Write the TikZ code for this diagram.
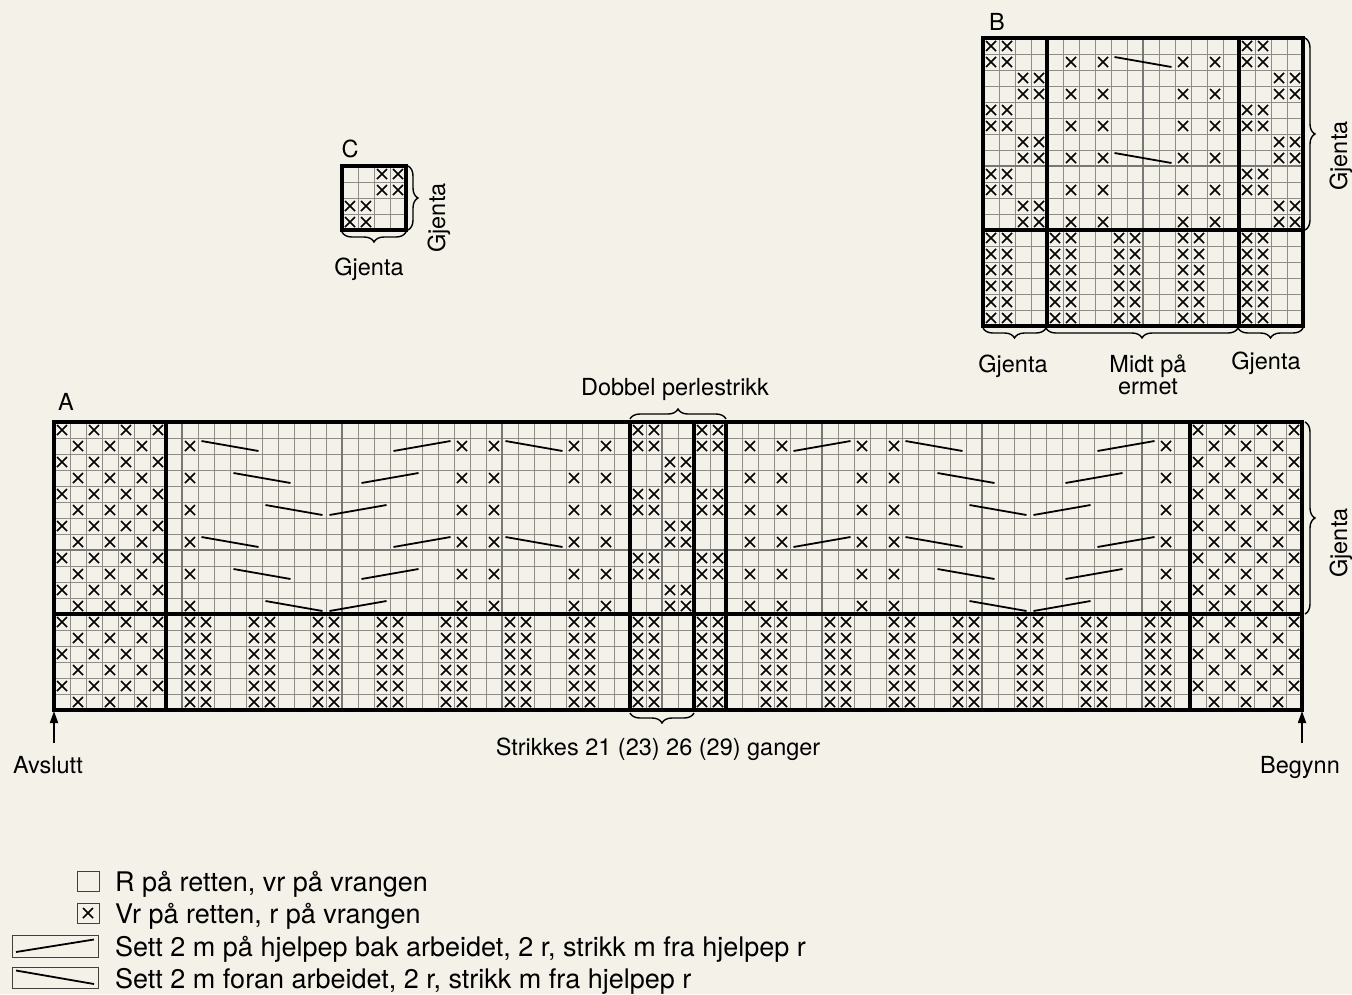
\documentclass[tikz,border=0pt]{standalone}
\usepackage{fontspec}
\setmainfont{TeX Gyre Heros}
\usetikzlibrary{decorations.pathreplacing,arrows.meta}
\definecolor{bgc}{RGB}{244,241,233}
\definecolor{glc}{RGB}{140,140,140}
\definecolor{gmc}{RGB}{120,120,120}
\newcommand\kX[2]{\draw[xmark] ({16*(#1)+3},{16*(#2)+3}) -- ++(10,10) ({16*(#1)+13},{16*(#2)+3}) -- ++(-10,10);}
\newcommand\kBS[2]{\draw[cable] ({16*(#1)+3.5},{16*(#2)+3}) -- ({16*(#1)+60.5},{16*(#2)+13});}
\newcommand\kFS[2]{\draw[cable] ({16*(#1)+3.5},{16*(#2)+13}) -- ({16*(#1)+60.5},{16*(#2)+3});}
\newcommand\kGrid[2]{%
  \foreach \i in {0,...,#1} \draw[gline] (16*\i,0) -- (16*\i,16*#2);
  \foreach \j in {0,...,#2} \draw[gline] (0,16*\j) -- (16*#1,16*\j);}
\begin{document}
\begin{tikzpicture}[x=1pt,y=-1pt,
  gline/.style={draw=glc,line width=0.9pt},
  gmid/.style={draw=gmc,line width=1.8pt},
  bold/.style={draw=black,line width=4pt},
  xmark/.style={draw=black,line width=1.6pt},
  cable/.style={draw=black,line width=1.8pt},
  kbrace/.style={decorate,decoration={brace,amplitude=10pt},line width=1.4pt},
  lbl/.style={font=\fontsize{23.5}{28}\selectfont,inner sep=0pt},
  leg/.style={font=\fontsize{27}{32}\selectfont,inner sep=0pt,anchor=base west},
  legbox/.style={draw=black!75,line width=1pt}]
\fill[bgc] (0,0) rectangle (1352,994);
\useasboundingbox (0,0) rectangle (1352,994);

% ---------------- Chart A ----------------
\begin{scope}[shift={(54,422)}]
\kGrid{78}{18}
\foreach \c in {8,18,28,38,48,58,68} \draw[gmid] (16*\c,0) -- (16*\c,288);
\draw[gmid] (0,128) -- (1248,128);
% side blocks
\foreach \r in {0,2,...,16} {\foreach \c in {0,2,4,6,71,73,75,77} {\kX{\c}{\r}}}
\foreach \r in {1,3,...,17} {\foreach \c in {1,3,5,72,74,76} {\kX{\c}{\r}}}
% upper odd rows
\foreach \r in {1,3,...,11} {\foreach \c in {8,25,27,32,34,43,45,50,52,69} {\kX{\c}{\r}}}
% perlestrikk
\foreach \r in {0,1,4,5,8,9} {\foreach \c in {36,37,40,41} {\kX{\c}{\r}}}
\foreach \r in {2,3,6,7,10,11} {\foreach \c in {38,39} {\kX{\c}{\r}}}
% lower rib
\foreach \r in {12,...,17} {\foreach \k in {0,...,15} {\kX{8+4*\k}{\r}\kX{9+4*\k}{\r}}}
% cables
\foreach \c/\r in {9/1,9/7,11/3,11/9,13/5,13/11,28/1,28/7,53/1,53/7,55/3,55/9,57/5,57/11} {\kBS{\c}{\r}}
\foreach \c/\r in {17/5,17/11,19/3,19/9,21/1,21/7,46/1,46/7,61/5,61/11,63/3,63/9,65/1,65/7} {\kFS{\c}{\r}}
% bold lines
\foreach \c in {7,36,40,42,71} \draw[bold] (16*\c,0) -- (16*\c,288);
\draw[bold] (0,192) -- (1248,192);
\draw[bold] (0,0) rectangle (1248,288);
\end{scope}

% ---------------- Chart B ----------------
\begin{scope}[shift={(983,38)}]
\kGrid{20}{18}
\draw[gmid] (160,0) -- (160,288);
\draw[gmid] (0,128) -- (320,128);
\foreach \r in {0,1,4,5,8,9} {\foreach \c in {0,1,16,17} {\kX{\c}{\r}}}
\foreach \r in {2,3,6,7,10,11} {\foreach \c in {2,3,18,19} {\kX{\c}{\r}}}
\foreach \r in {1,3,...,11} {\foreach \c in {5,7,12,14} {\kX{\c}{\r}}}
\foreach \r in {12,...,17} {\foreach \k in {0,...,4} {\kX{4*\k}{\r}\kX{1+4*\k}{\r}}}
\kBS{8}{1}\kBS{8}{7}
\foreach \c in {4,16} \draw[bold] (16*\c,0) -- (16*\c,288);
\draw[bold] (0,192) -- (320,192);
\draw[bold] (0,0) rectangle (320,288);
\end{scope}

% ---------------- Chart C ----------------
\begin{scope}[shift={(342,166)}]
\kGrid{4}{4}
\foreach \r in {0,1} {\foreach \c in {2,3} {\kX{\c}{\r}}}
\foreach \r in {2,3} {\foreach \c in {0,1} {\kX{\c}{\r}}}
\draw[bold] (0,0) rectangle (64,64);
\end{scope}

% ---------------- braces ----------------
\draw[kbrace] (630,419) -- (726,419);
\draw[kbrace] (694,713) -- (630,713);
\draw[kbrace] (1305,422) -- (1305,614);
\draw[kbrace] (1305,38) -- (1305,230);
\draw[kbrace] (1046,328) -- (983,328);
\draw[kbrace] (1238,328) -- (1046,328);
\draw[kbrace] (1303,328) -- (1238,328);
\draw[kbrace] (408,166) -- (408,230);
\draw[kbrace] (406,232) -- (342,232);

% ---------------- arrows ----------------
\coordinate (avsS) at (54,743);
\coordinate (avsE) at (54,711);
\coordinate (begS) at (1302,743);
\coordinate (begE) at (1302,711);
\draw[line width=1.8pt,-{Triangle[length=12pt,width=8pt]}] (avsS) -- (avsE);
\draw[line width=1.8pt,-{Triangle[length=12pt,width=8pt]}] (begS) -- (begE);

% ---------------- labels ----------------
\node[lbl,anchor=base] (labA) at (66,410) {A};
\node[lbl,anchor=base] (labB) at (997,30) {B};
\node[lbl,anchor=base] (labC) at (350,157) {C};
\node[lbl,anchor=base] (dob) at (675,395) {Dobbel perlestrikk};
\node[lbl,anchor=base] (strk) at (658,755) {Strikkes 21 (23) 26 (29) ganger};
\node[lbl,anchor=base] (avs) at (48,773) {Avslutt};
\node[lbl,anchor=base] (beg) at (1300,773) {Begynn};
\node[lbl,rotate=90] (gjA) at (1341,543) {Gjenta};
\node[lbl,rotate=90] (gjB) at (1341,156) {Gjenta};
\node[lbl,rotate=90] (gjC) at (439,218) {Gjenta};
\node[lbl,anchor=base] (gjCb) at (369,275) {Gjenta};
\node[lbl,anchor=base] (gjB1) at (1013,372) {Gjenta};
\node[lbl,anchor=base] (midt) at (1148,372) {Midt på};
\node[lbl,anchor=base] (erm) at (1148,394) {ermet};
\node[lbl,anchor=base] (gjB2) at (1266,369) {Gjenta};

% ---------------- legend ----------------
\draw[legbox] (77,871) rectangle (99,891);
\node[leg] (l1) at (115,891) {R på retten, vr på vrangen};
\draw[legbox] (77,903) rectangle (99,923);
\draw[xmark] (83,908) -- ++(10,10) (93,908) -- ++(-10,10);
\node[leg] (l2) at (115,923) {Vr på retten, r på vrangen};
\draw[legbox] (12,935) rectangle (98,957);
\draw[cable] (16,952) -- (94,939.5);
\node[leg] (l3) at (115,956) {Sett 2 m på hjelpep bak arbeidet, 2 r, strikk m fra hjelpep r};
\draw[legbox] (12,967) rectangle (98,988);
\draw[cable] (16,970.5) -- (94,984);
\node[leg] (l4) at (115,988) {Sett 2 m foran arbeidet, 2 r, strikk m fra hjelpep r};
\end{tikzpicture}
\end{document}
